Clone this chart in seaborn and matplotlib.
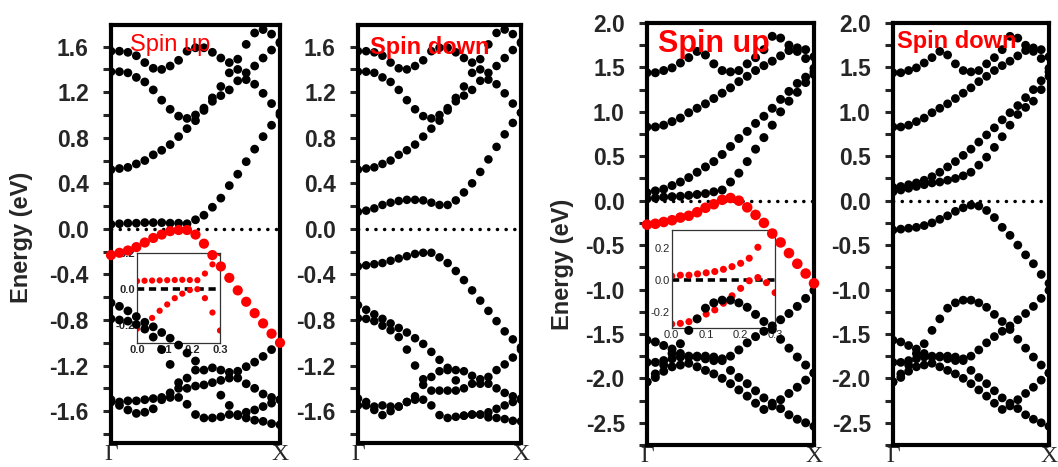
import numpy as np
import pandas as pd
import matplotlib
matplotlib.use("Agg")
import matplotlib.pyplot as plt
import seaborn as sns
from matplotlib.ticker import MultipleLocator, FormatStrFormatter

nan = np.nan
# ---------------- k path (Γ -> X), 21 k-points ----------------
K = np.linspace(0, 1, 21)

# ---------------- left structure: conduction bands (same for both spins) -------------
c_a = [1.56,1.56,1.55,1.52,1.46,1.41,1.40,1.43,1.48,1.56,1.59,1.59,1.55,1.50,1.46,1.40,1.31,1.27,1.19,1.10,1.02]
c_b = [1.38,1.38,1.37,1.33,1.29,1.22,1.13,1.05,0.99,0.97,1.00,1.06,1.12,1.17,1.22,1.30,1.37,1.43,1.50,1.57,1.63]
c_c = [0.52,0.53,0.54,0.57,0.60,0.65,0.69,0.74,0.81,0.88,0.95,1.04,1.15,1.25,1.37,1.49,1.62,1.72,1.75,1.71,1.64]

# left structure, spin up
up_c4 = [0.04,0.045,0.05,0.05,0.055,0.055,0.055,0.05,0.05,0.045,0.08,0.12,0.19,0.27,0.38,0.48,0.59,0.70,0.81,0.91,1.00]
up_red = [-0.23,-0.21,-0.19,-0.16,-0.12,-0.08,-0.05,-0.02,-0.01,-0.01,-0.05,-0.13,-0.23,-0.33,-0.43,-0.54,-0.64,-0.74,-0.83,-0.92,-1.00]
up_v1 = [-0.65,-0.68,-0.72,-0.77,-0.82,-0.86,-0.91,-0.96,-1.02,-1.09,-1.16,-1.24,-1.22,-1.24,-1.26,-1.25,-1.21,-1.17,-1.12,-1.06,-1.00]
up_v2 = [-0.79,-0.80,-0.81,-0.84,-0.88,-0.95,-1.06,-1.19,-1.35,-1.40,-1.38,-1.37,-1.35,-1.33,-1.31,-1.31,-1.36,-1.40,-1.45,-1.48,-1.50]
up_v3 = [-1.50,-1.52,-1.51,-1.51,-1.50,-1.49,-1.48,-1.44,-1.40,-1.31,-1.24,nan,nan,-1.46,-1.55,-1.63,-1.61,-1.59,-1.56,-1.53,-1.50]
up_v4 = [-1.52,-1.55,-1.59,-1.62,-1.61,-1.58,-1.50,-1.48,-1.48,-1.54,-1.63,-1.66,-1.66,-1.65,-1.63,-1.64,-1.66,-1.68,-1.69,-1.71,-1.72]

# left structure, spin down
dn_c4 = [0.15,0.16,0.18,0.21,0.23,0.245,0.255,0.255,0.25,0.23,0.21,0.21,0.25,0.32,0.40,0.50,0.61,0.72,0.83,0.93,1.02]
dn_v0 = [-0.33,-0.32,-0.31,-0.30,-0.28,-0.26,-0.24,-0.22,-0.21,-0.21,-0.25,-0.30,-0.37,-0.45,-0.54,-0.63,-0.72,-0.81,-0.90,-0.97,-1.04]
dn_v1 = [-0.67,-0.71,-0.75,-0.79,-0.83,-0.87,-0.91,-0.96,-1.01,-1.08,-1.15,-1.22,-1.24,-1.25,-1.29,-1.32,-1.30,-1.24,-1.19,-1.13,-1.06]
dn_v2 = [-0.785,-0.79,-0.81,-0.85,-0.89,-0.95,-1.06,-1.20,-1.37,-1.42,-1.42,-1.42,-1.42,-1.40,-1.36,-1.36,-1.36,-1.40,-1.44,-1.47,-1.49]
dn_v3 = [-1.49,-1.52,-1.56,-1.55,-1.56,-1.56,-1.52,-1.47,-1.32,-1.30,-1.25,-1.24,-1.33,nan,nan,nan,nan,nan,nan,nan,nan]
dn_v4 = [-1.55,-1.55,-1.59,-1.635,-1.60,-1.56,-1.52,-1.50,-1.50,-1.55,-1.635,-1.66,-1.65,-1.64,-1.63,-1.63,-1.61,-1.58,-1.55,-1.52,-1.50]
dn_v5 = [nan,nan,nan,nan,nan,nan,nan,nan,nan,nan,nan,nan,nan,-1.64,-1.63,-1.63,-1.655,-1.66,-1.67,-1.685,-1.69]

# ---------------- right structure ----------------
r_t1 = [1.44,1.44,1.465,1.495,1.55,1.61,1.68,1.64,1.54,1.465,1.45,1.465,1.54,1.61,1.70,1.85,1.83,1.75,1.68,1.60,1.49]
r_t2 = [0.83,0.83,0.85,0.89,0.93,0.99,1.04,1.09,1.15,1.21,1.27,1.34,1.40,1.465,1.52,1.57,1.63,1.69,1.72,1.70,1.62]
r_a1 = [-2.04,-1.95,-1.85,-1.72,-1.61,-1.46,-1.33,-1.21,-1.15,-1.12,-1.12,-1.15,-1.20,-1.28,-1.36,-1.45,-1.56,-1.66,-1.76,-1.85,-1.94]
r_a2 = [-1.57,-1.59,-1.63,-1.67,-1.72,-1.75,-1.75,-1.75,-1.76,-1.80,-1.91,-1.99,-2.06,-2.14,-2.22,-2.28,-2.34,-2.41,-2.46,-2.50,-2.54]
r_a3 = [-1.82,-1.82,-1.80,-1.78,-1.76,-1.76,-1.76,-1.78,-1.80,-1.78,-1.75,-1.68,-1.60,-1.53,-1.47,-1.41,-1.34,-1.27,-1.19,-1.10,-1.01]
r_a4 = [-2.04,-1.99,-1.92,-1.87,-1.85,-1.83,-1.87,-1.91,-1.95,-2.00,-2.06,-2.13,-2.20,-2.28,-2.35,-2.31,-2.24,-2.17,-2.10,-2.02,-1.94]

ru_t3 = [0.09,0.11,0.13,0.17,0.21,0.26,0.32,0.38,0.44,0.52,0.61,0.70,0.78,0.87,0.95,1.04,1.14,1.23,1.32,1.39,1.45]
ru_t4 = [0.02,0.03,0.04,0.045,0.05,0.06,0.07,0.08,0.10,0.12,0.21,0.31,0.44,0.58,0.71,0.85,1.00,1.12,1.22,1.33,1.42]
ru_red = [-0.27,-0.26,-0.24,-0.22,-0.19,-0.17,-0.13,-0.08,-0.04,0.01,0.03,0.00,-0.075,-0.16,-0.25,-0.37,-0.47,-0.59,-0.71,-0.82,-0.93]

rd_t3 = [0.15,0.16,0.18,0.20,0.23,0.27,0.32,0.38,0.44,0.51,0.58,0.66,0.74,0.82,0.91,0.99,1.07,1.16,1.25,1.35,1.45]
rd_t4 = [0.10,0.12,0.14,0.16,0.18,0.20,0.21,0.23,0.25,0.28,0.32,0.40,0.49,0.60,0.72,0.85,0.97,1.05,1.12,1.25,1.40]
rd_v1 = [-0.33,-0.32,-0.31,-0.30,-0.28,-0.25,-0.21,-0.17,-0.12,-0.08,-0.05,-0.06,-0.11,-0.19,-0.30,-0.39,-0.50,-0.61,-0.71,-0.83,-0.93]

# ---------------- insets (zoom near the Fermi level) ----------------
K_IN1 = np.linspace(0, 0.3, 12)
in1_red_a = [0.045,0.047,0.048,0.049,0.05,0.051,0.052,0.051,0.05,0.087,0.138,0.20]
in1_red_b = [-0.22,-0.20,-0.16,-0.12,-0.085,-0.05,-0.025,-0.005,0.0,-0.05,-0.13,-0.23]
K_IN2 = np.linspace(0, 0.3, 13)
in2_red_a = [0.025,0.03,0.03,0.038,0.045,0.053,0.067,0.084,0.105,0.137,0.206,0.34,0.5]
in2_red_b = [-0.278,-0.274,-0.263,-0.242,-0.215,-0.189,-0.147,-0.10,-0.053,-0.005,0.015,-0.017,-0.08]

# ---------------- style ----------------
sns.set_style("white")
plt.rcParams["font.family"] = ["Liberation Sans", "DejaVu Sans"]
plt.rcParams["font.weight"] = "bold"
plt.rcParams["axes.unicode_minus"] = False

W, H = 1058, 467
fig = plt.figure(figsize=(W / 100, H / 100), dpi=100)


def frame(x0, x1, y0, y1):
    return [x0 / W, 1 - y1 / H, (x1 - x0) / W, (y1 - y0) / H]


def bands_df(k, bands):
    return pd.DataFrame({"k": np.tile(k, len(bands)),
                         "E": np.concatenate([np.asarray(b, float) for b in bands])})


def panel(rect, black, red, ylim, major, minor, s_black, s_red):
    ax = fig.add_axes(rect)
    ax.axhline(0, color="black", lw=2.5, ls=(0, (0.05, 2.45)), dash_capstyle="round", zorder=1.8)
    sns.scatterplot(data=bands_df(K, black), x="k", y="E", color="black", s=s_black,
                    edgecolor="none", linewidth=0, ax=ax, zorder=2, legend=False)
    if red:
        sns.scatterplot(data=bands_df(K, red), x="k", y="E", color="#ff0000", s=s_red,
                        edgecolor="none", linewidth=0, ax=ax, zorder=3, legend=False, clip_on=False)
    ax.set_xlim(0, 1)
    ax.set_ylim(*ylim)
    ax.set_xticks([0, 1])
    ax.set_xticklabels(["Γ", "X"], fontfamily="Liberation Serif", fontweight="normal", fontsize=17)
    ax.tick_params(axis="x", length=0, pad=1)
    ax.yaxis.set_major_locator(MultipleLocator(major))
    ax.yaxis.set_minor_locator(MultipleLocator(minor))
    ax.yaxis.set_major_formatter(FormatStrFormatter("%.1f"))
    ax.tick_params(axis="y", which="both", direction="out", left=True, length=6, width=2.2,
                   pad=10, labelsize=16.5)
    for sp in ax.spines.values():
        sp.set_linewidth(3)
        sp.set_color("black")
    ax.set_xlabel("")
    ax.set_ylabel("")
    return ax


def inset(ax, rect, k, reds, ylim, s, bold):
    ins = ax.inset_axes(rect)
    ins.set_zorder(1.5)
    ins.set_facecolor("white")
    ins.axhline(0, color="black", lw=2.6, ls=(0, (2.0, 1.3)), zorder=1)
    sns.scatterplot(data=bands_df(k, reds), x="k", y="E", color="#ff0000", s=s,
                    edgecolor="none", linewidth=0, ax=ins, zorder=2, legend=False)
    ins.set_xlim(0, 0.3)
    ins.set_ylim(*ylim)
    ins.xaxis.set_major_locator(MultipleLocator(0.1))
    ins.xaxis.set_minor_locator(MultipleLocator(0.05))
    ins.yaxis.set_major_locator(MultipleLocator(0.2))
    ins.yaxis.set_minor_locator(MultipleLocator(0.1))
    ins.xaxis.set_major_formatter(FormatStrFormatter("%.1f"))
    ins.yaxis.set_major_formatter(FormatStrFormatter("%.1f"))
    ins.tick_params(which="both", direction="in", length=2.5, width=0.8, labelsize=8, pad=1.5)
    for lab in ins.get_xticklabels() + ins.get_yticklabels():
        lab.set_fontweight("bold" if bold else "normal")
    for sp in ins.spines.values():
        sp.set_linewidth(0.9)
        sp.set_color("#333333")
    ins.set_xlabel("")
    ins.set_ylabel("")
    return ins


left_ylim = (-1.88, 1.79)
right_ylim = (-2.75, 2.0)

ax1 = panel(frame(111, 280, 25, 443), [c_a, c_b, c_c, up_c4, up_v1, up_v2, up_v3, up_v4], [up_red],
            left_ylim, 0.4, 0.2, 40, 54)
ax2 = panel(frame(358, 521, 25, 443), [c_a, c_b, c_c, dn_c4, dn_v0, dn_v1, dn_v2, dn_v3, dn_v4, dn_v5], None,
            left_ylim, 0.4, 0.2, 38, 50)
ax3 = panel(frame(647, 814, 23, 445), [r_t1, r_t2, ru_t3, ru_t4, r_a1, r_a2, r_a3, r_a4], [ru_red],
            right_ylim, 0.5, 0.25, 42, 58)
ax4 = panel(frame(893, 1049, 23, 445), [r_t1, r_t2, rd_t3, rd_t4, rd_v1, r_a1, r_a2, r_a3, r_a4], None,
            right_ylim, 0.5, 0.25, 40, 52)

inset(ax1, [0.154, 0.239, 0.491, 0.215], K_IN1, [in1_red_a, in1_red_b], (-0.30, 0.20), 20, True)
inset(ax3, [0.148, 0.2765, 0.619, 0.233], K_IN2, [in2_red_a, in2_red_b], (-0.305, 0.315), 26, False)

for ax, (lx, ly) in [(ax1, (-0.527, 0.493)), (ax3, (-0.503, 0.427))]:
    ax.set_ylabel("Energy (eV)", fontsize=17, fontweight="bold", va="center")
    ax.yaxis.set_label_coords(lx, ly)

ax1.text(0.352, 0.952, "Spin up", color="#ff0000", fontsize=17, fontweight="normal",
         ha="center", va="center", transform=ax1.transAxes, zorder=5)
ax2.text(0.442, 0.947, "Spin down", color="#ff0000", fontsize=17, fontweight="bold",
         ha="center", va="center", transform=ax2.transAxes, zorder=5)
ax3.text(0.398, 0.950, "Spin up", color="#ff0000", fontsize=22, fontweight="bold",
         ha="center", va="center", transform=ax3.transAxes, zorder=5)
ax4.text(0.407, 0.957, "Spin down", color="#ff0000", fontsize=17, fontweight="bold",
         ha="center", va="center", transform=ax4.transAxes, zorder=5)

fig.savefig("out.png", dpi=100)
